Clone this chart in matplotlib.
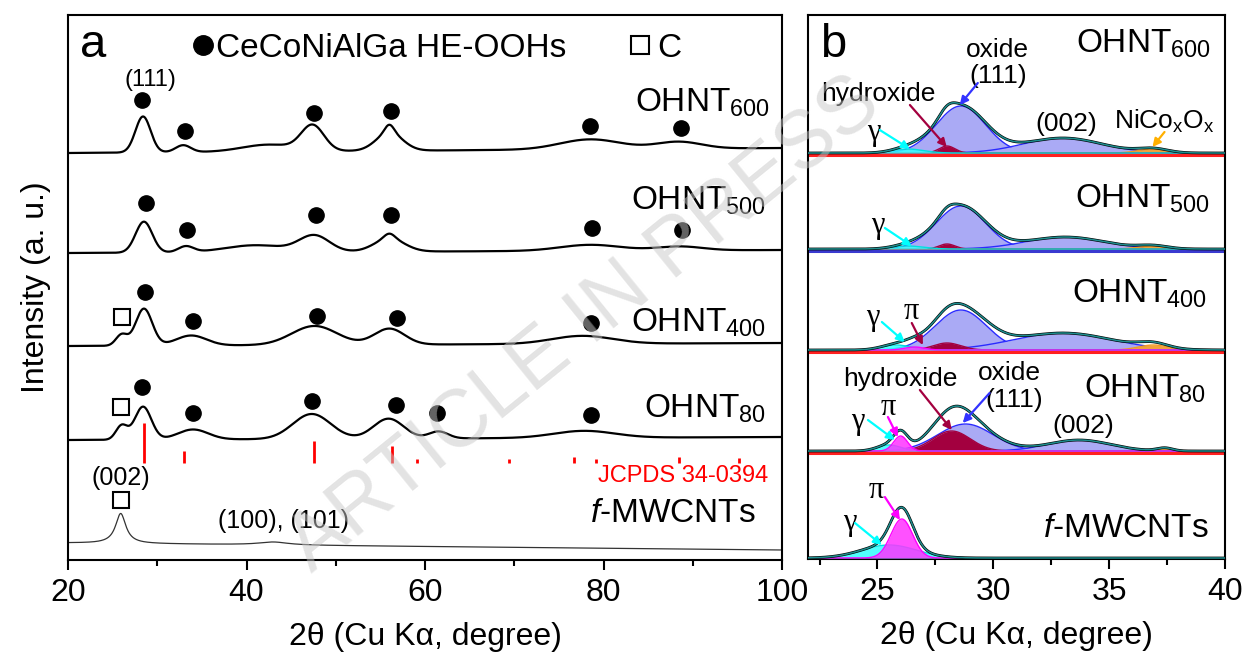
import numpy as np
import matplotlib.pyplot as plt

plt.rcParams['font.family'] = ['Liberation Sans', 'DejaVu Sans']
plt.rcParams['mathtext.fontset'] = 'custom'
plt.rcParams['mathtext.rm'] = 'Liberation Sans'
plt.rcParams['mathtext.it'] = 'Liberation Sans:italic'
plt.rcParams['mathtext.default'] = 'regular'

# ---------------- panel a: XRD patterns ----------------
# peaks: centre (2theta), height, FWHM
a_labels = ['OHNT$_{600}$', 'OHNT$_{500}$', 'OHNT$_{400}$', 'OHNT$_{80}$',
            '$\\mathit{f}$-MWCNTs']

a600_pos = [28.4, 32.9, 42.5, 47.4, 56.0, 56.0, 78.5, 88.4]
a600_hgt = [36, 7, 7, 25, 8, 18, 10, 7]
a600_fwhm = [2.0, 2.0, 7.0, 3.0, 1.2, 3.5, 8.0, 6.0]

a500_pos = [28.5, 33.2, 41.0, 47.6, 56.0, 56.0, 78.5, 88.5]
a500_hgt = [31, 6, 7, 16, 5, 13, 6, 4]
a500_fwhm = [2.2, 2.0, 8.0, 4.0, 1.4, 4.0, 8.0, 6.0]

a400_pos = [26.0, 28.5, 33.8, 47.6, 56.0, 77.6]
a400_hgt = [11, 37, 10, 19, 16, 8]
a400_fwhm = [1.5, 2.2, 4.0, 6.0, 4.0, 8.0]

a80_pos = [26.0, 28.4, 34.0, 47.3, 55.9, 61.5, 77.8]
a80_hgt = [14, 33, 10, 25, 20, 7, 7]
a80_fwhm = [1.5, 2.2, 4.0, 5.0, 4.0, 2.5, 8.0]

cnt_pos = [25.9, 43.0]
cnt_hgt = [30, 3]
cnt_fwhm = [1.4, 4.0]

# background level at 20 and 100 degree for each trace
a_bg_left = [407, 307, 214, 120, 17]
a_bg_right = [412, 310, 217, 123, 10]

# JCPDS 34-0394 reference lines
jcpds_pos = [28.5, 33.0, 47.5, 56.3, 59.1, 69.4, 76.7, 79.1, 88.4, 95.2]
jcpds_hgt = [40, 12, 22, 17, 4, 4, 6, 4, 6, 5]

# phase markers (filled circle = HE-OOHs, open square = C)
circ_x = [28.3, 33.1, 47.6, 56.2, 78.5, 88.7,
          28.7, 33.3, 47.8, 56.2, 78.7, 88.8,
          28.6, 34.0, 47.9, 56.9, 78.6,
          28.3, 34.0, 47.3, 56.75, 61.3, 78.6]
circ_y = [460, 429, 447, 449, 434, 432,
          357, 330, 345, 345, 332, 330,
          268, 239, 244, 242, 237,
          173, 147, 159, 155, 147, 145]
sq_x = [26.05, 25.9, 25.9]
sq_y = [243, 153, 60]

# ---------------- panel b: peak fits ----------------
b_labels = ['OHNT$_{600}$', 'OHNT$_{500}$', 'OHNT$_{400}$', 'OHNT$_{80}$',
            '$\\mathit{f}$-MWCNTs']

b600_kind = ['oxide', 'oxide', 'nico', 'hydroxide', 'gamma']
b600_pos = [28.6, 33.0, 36.9, 28.0, 26.3]
b600_hgt = [47, 15, 4, 7, 4]
b600_fwhm = [2.5, 4.0, 1.5, 0.8, 1.6]

b500_kind = ['oxide', 'oxide', 'nico', 'hydroxide', 'gamma']
b500_pos = [28.6, 33.1, 36.9, 28.0, 26.3]
b500_hgt = [43, 12, 3, 5, 3]
b500_fwhm = [2.5, 4.0, 1.5, 0.8, 1.6]

b400_kind = ['oxide', 'oxide', 'nico', 'hydroxide', 'gamma', 'pi']
b400_pos = [28.6, 33.0, 36.9, 28.0, 25.8, 26.6]
b400_hgt = [40, 17, 5, 7, 5, 3]
b400_fwhm = [2.6, 5.0, 1.5, 1.4, 1.5, 1.0]

b80_kind = ['oxide', 'oxide', 'nico', 'hydroxide', 'gamma', 'pi']
b80_pos = [28.8, 33.7, 37.4, 28.2, 25.5, 26.0]
b80_hgt = [27, 11, 3, 20, 6, 15]
b80_fwhm = [2.8, 3.2, 0.8, 1.9, 1.2, 0.7]

bcnt_kind = ['gamma', 'pi']
bcnt_pos = [25.5, 26.05]
bcnt_hgt = [13, 39]
bcnt_fwhm = [2.8, 1.1]

b_base = [406, 310, 209, 108, 1]

fill_col = {'oxide': '#aaaaf5', 'hydroxide': '#a3003f', 'gamma': '#33ffff',
            'pi': '#ff33ff', 'nico': '#f2a23c'}
edge_col = {'oxide': '#2b2bff', 'hydroxide': '#a3003f', 'gamma': '#00e0e0',
            'pi': '#ff00ff', 'nico': '#f29a20'}
draw_order = {'oxide': 1, 'nico': 2, 'hydroxide': 3, 'gamma': 4, 'pi': 5}


def gauss(x, pos, hgt, fwhm):
    s = fwhm / 2.3548
    return hgt * np.exp(-(x - pos) ** 2 / (2 * s * s))


def lorentz(x, pos, hgt, fwhm):
    return hgt / (1 + ((x - pos) / (fwhm / 2)) ** 2)


def pattern(x, pos, hgt, fwhm, shape=gauss):
    y = np.zeros_like(x)
    for p, h, w in zip(pos, hgt, fwhm):
        y += shape(x, p, h, w)
    return y


fig = plt.figure(figsize=(12.44, 6.61), dpi=100)
ax = fig.add_axes([0.0547, 0.1528, 0.574, 0.8245])
bx = fig.add_axes([0.6495, 0.1543, 0.3352, 0.8230])

# ---- panel a
tt = np.linspace(20, 100, 2000)
peaks_a = [(a600_pos, a600_hgt, a600_fwhm), (a500_pos, a500_hgt, a500_fwhm),
           (a400_pos, a400_hgt, a400_fwhm), (a80_pos, a80_hgt, a80_fwhm)]
for i, (p, h, w) in enumerate(peaks_a):
    bg = a_bg_left[i] + (a_bg_right[i] - a_bg_left[i]) * (tt - 20) / 80
    ax.plot(tt, bg + pattern(tt, p, h, w), color='black', lw=1.6)
bg = a_bg_left[4] + (a_bg_right[4] - a_bg_left[4]) * (tt - 20) / 80
ax.plot(tt, bg + pattern(tt, cnt_pos, cnt_hgt, cnt_fwhm, lorentz),
        color='#333333', lw=0.9)

ax.vlines(jcpds_pos, 97, 97 + np.array(jcpds_hgt), color='red', lw=2)
ax.text(98.4, 78, 'JCPDS 34-0394', color='red', fontsize=17, ha='right',
        va='baseline')

ax.plot(circ_x, circ_y, 'o', color='black', ms=11, ls='none')
ax.plot(sq_x, sq_y, 's', mfc='white', mec='black', mew=1.5, ms=11, ls='none')

label_y_a = [448, 350, 228, 142, 38]
label_x_a = [98.7, 98.2, 98.2, 98.2, 97.0]
for lab, lx, ly in zip(a_labels, label_x_a, label_y_a):
    ax.text(lx, ly, lab, fontsize=24, ha='right', va='baseline')

ax.text(21.35, 503, 'a', fontsize=34, va='baseline')
ax.plot([35.1], [515], 'o', color='black', ms=14)
ax.text(36.6, 503, 'CeCoNiAlGa HE-OOHs', fontsize=24, va='baseline')
ax.plot([84.1], [515], 's', mfc='white', mec='black', mew=1.5, ms=13)
ax.text(86.0, 503, 'C', fontsize=24, va='baseline')
ax.text(29.2, 480, '(111)', fontsize=17, ha='center', va='center')
ax.text(25.94, 82, '(002)', fontsize=18, ha='center', va='center')
ax.text(44.1, 39, '(100), (101)', fontsize=18, ha='center', va='center')

ax.set_xlim(20, 100)
ax.set_ylim(0, 545)
ax.set_xticks([20, 40, 60, 80, 100])
ax.set_xticks([30, 50, 70, 90], minor=True)
ax.set_yticks([])
ax.set_xlabel('2\u03b8 (Cu K\u03b1, degree)', fontsize=23, labelpad=10)
ax.set_ylabel('Intensity (a. u.)', fontsize=23, labelpad=12)

# ---- panel b
xb = np.linspace(22, 40, 1200)
fits_b = [(b600_kind, b600_pos, b600_hgt, b600_fwhm),
          (b500_kind, b500_pos, b500_hgt, b500_fwhm),
          (b400_kind, b400_pos, b400_hgt, b400_fwhm),
          (b80_kind, b80_pos, b80_hgt, b80_fwhm),
          (bcnt_kind, bcnt_pos, bcnt_hgt, bcnt_fwhm)]
base_line_col = ['#ff2020', '#3a3ad0', '#ff2020', '#ff2020', '#ff33ff']
for i, (kind, p, h, w) in enumerate(fits_b):
    base = b_base[i]
    bx.axhline(base - 1.5, color=base_line_col[i], lw=2.2, zorder=1)
    total = np.zeros_like(xb)
    order = sorted(range(len(kind)), key=lambda k: draw_order[kind[k]])
    for k in order:
        comp = gauss(xb, p[k], h[k], w[k])
        total += comp
        alpha = 0.85 if kind[k] in ('gamma', 'pi') else 1.0
        bx.fill_between(xb, base, base + comp, color=fill_col[kind[k]],
                        alpha=alpha, lw=0, zorder=2 + draw_order[kind[k]])
        bx.plot(xb, base + comp, color=edge_col[kind[k]], lw=1.0,
                zorder=2 + draw_order[kind[k]])
    bx.plot(xb, base + total, color='black', lw=2.0, zorder=9)
    bx.plot(xb, base + total, color='#1f8f8f', lw=1.1, zorder=10)

label_y_b = [506, 351, 256, 161, 22]
label_x_b = [39.41, 39.37, 39.24, 39.2, 39.3]
for lab, lx, ly in zip(b_labels, label_x_b, label_y_b):
    bx.text(lx, ly, lab, fontsize=24, ha='right', va='baseline')

bx.text(22.52, 502, 'b', fontsize=34, va='baseline')

greek = ['Liberation Serif', 'DejaVu Serif']
txt_b = [('oxide', 30.19, 509, 19), ('(111)', 30.23, 483, 19),
         ('hydroxide', 25.02, 465, 19), ('(002)', 33.16, 435, 19),
         ('NiCo$_x$O$_x$', 37.39, 438, 19),
         ('hydroxide', 25.97, 180, 19), ('oxide', 30.71, 186, 19),
         ('(111)', 30.88, 159, 19), ('(002)', 33.90, 133, 19)]
for t, tx, ty, fs in txt_b:
    bx.text(tx, ty, t, fontsize=fs, ha='center', va='center', zorder=12)

txt_g = [('\u03b3', 24.84, 427), ('\u03b3', 25.02, 334), ('\u03b3', 24.80, 242),
         ('\u03c0', 26.48, 248), ('\u03b3', 24.16, 138), ('\u03c0', 25.45, 152),
         ('\u03c0', 24.93, 69), ('\u03b3', 23.81, 37)]
for t, tx, ty in txt_g:
    bx.text(tx, ty, t, fontsize=22, ha='center', va='center', family=greek,
            zorder=12)

arrows_b = [((25.10, 429), (26.40, 410), '#00ffff'),
            ((26.40, 454), (27.99, 412), '#a3003f'),
            ((29.33, 476), (28.55, 454), '#3333ff'),
            ((37.39, 427), (36.87, 412), '#ffb000'),
            ((25.32, 331), (26.48, 313), '#00ffff'),
            ((25.19, 237), (26.18, 217), '#00ffff'),
            ((26.48, 236), (26.96, 214), '#a3003f'),
            ((24.59, 139), (25.75, 119), '#00ffff'),
            ((25.45, 142), (25.88, 122), '#ff00ff'),
            ((26.83, 169), (28.21, 129), '#a3003f'),
            ((29.84, 166), (28.68, 136), '#3333ff'),
            ((25.32, 62), (25.97, 39), '#ff00ff'),
            ((24.03, 36), (25.19, 14), '#00ffff')]
for start, end, c in arrows_b:
    bx.annotate('', xy=end, xytext=start, zorder=13,
                arrowprops=dict(arrowstyle='-|>', color=c, lw=1.6,
                                mutation_scale=12, shrinkA=0, shrinkB=0))

bx.set_xlim(22, 40)
bx.set_ylim(0, 544)
bx.set_xticks([25, 30, 35, 40])
bx.set_xticks([22.5, 27.5, 32.5, 37.5], minor=True)
bx.set_yticks([])
bx.set_xlabel('2\u03b8 (Cu K\u03b1, degree)', fontsize=23, labelpad=10)

for a in (ax, bx):
    for sp in a.spines.values():
        sp.set_linewidth(1.5)
    a.tick_params(axis='x', which='major', direction='out', length=7,
                  width=1.5, labelsize=23, pad=6)
    a.tick_params(axis='x', which='minor', direction='out', length=4,
                  width=1.5)

# watermark
fig.text(0.470, 0.508, 'ARTICLE IN PRESS', rotation=39, fontsize=58,
         color='#c8c8c8', alpha=0.5, ha='center', va='center', zorder=20)

plt.savefig('out.png', dpi=100)
